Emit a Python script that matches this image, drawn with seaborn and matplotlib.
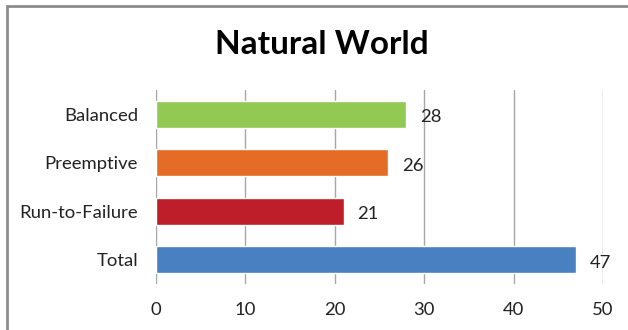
import matplotlib
matplotlib.use("Agg")
import matplotlib.pyplot as plt
from matplotlib.patches import Rectangle
import seaborn as sns
import pandas as pd

categories = ["Balanced", "Preemptive", "Run-to-Failure", "Total"]
values = [28, 26, 21, 47]
colors = ["#92C953", "#E56C26", "#BE1E2A", "#4880C2"]
x_ticks = [0, 10, 20, 30, 40, 50]
title = "Natural World"

sns.set_theme(style="white")
plt.rcParams["font.family"] = ["Lato", "DejaVu Sans"]

df = pd.DataFrame({"category": categories, "value": values})

fig = plt.figure(figsize=(6.28, 3.30), dpi=100)
ax = fig.add_axes([156 / 628, 1 - 284 / 330, 447 / 628, 194 / 330])

sns.barplot(data=df, y="category", x="value", hue="category",
            palette=colors, order=categories, width=0.56, saturation=1,
            legend=False, ax=ax, zorder=3)

ax.set_xlim(0, 50)
ax.set_ylim(3.5, -0.5)
ax.set_xticks(x_ticks)
ax.set_xticklabels([str(t) for t in x_ticks])
ax.grid(axis="x", color="#A6A6A6", linewidth=1.0, zorder=0)
ax.grid(axis="y", visible=False)
for s in ax.spines.values():
    s.set_visible(False)
ax.set_xlabel("")
ax.set_ylabel("")
ax.tick_params(axis="both", length=0, labelsize=13.3, colors="#222222")
ax.tick_params(axis="x", pad=13)
ax.tick_params(axis="y", pad=13)

# value labels, sitting slightly below the bar centre
for cont in ax.containers:
    for t in ax.bar_label(cont, fmt="%d", padding=10, fontsize=13.3,
                          color="#222222"):
        dx, dy = t.xyann
        t.xyann = (dx, dy - 2.2)

fig.text(322 / 628, 1 - 45 / 330, title, ha="center", va="center",
         fontsize=24, fontweight="bold", color="#000000")

# chart frame (left and top edges visible)
fig.patches.append(Rectangle((6.5 / 628, -0.1), 1.2, 1.1 - 6 / 330,
                             transform=fig.transFigure, fill=False,
                             edgecolor="#8C8C8C", linewidth=2.0))

fig.savefig("out.png", dpi=100, facecolor="white")
